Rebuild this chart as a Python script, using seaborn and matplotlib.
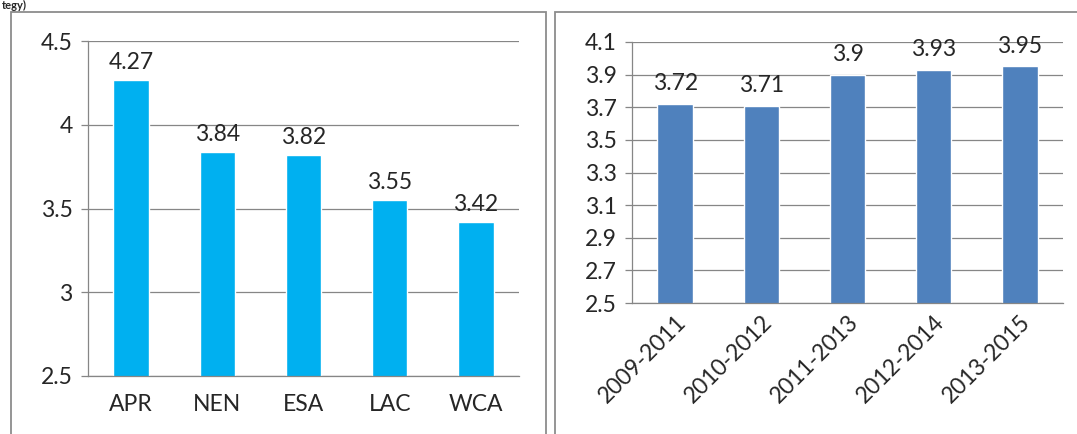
import matplotlib
matplotlib.use("Agg")
import matplotlib.pyplot as plt
import pandas as pd
import seaborn as sns
from matplotlib.patches import Rectangle

regions = ["APR", "NEN", "ESA", "LAC", "WCA"]
region_vals = [4.27, 3.84, 3.82, 3.55, 3.42]

periods = ["2009-2011", "2010-2012", "2011-2013", "2012-2014", "2013-2015"]
period_vals = [3.72, 3.71, 3.9, 3.93, 3.95]

sns.set_style("white")
plt.rcParams["font.family"] = ["Lato", "DejaVu Sans"]

W, H = 1077, 434
fig = plt.figure(figsize=(W / 100, H / 100), dpi=100)

grid_col = "#868686"
txt_size = 16.5


def px_axes(x0, x1, ytop, ybot):
    return fig.add_axes([x0 / W, (H - ybot) / H, (x1 - x0) / W, (ybot - ytop) / H])


def style_axes(ax, ymin, ymax, step):
    ax.set_ylim(ymin, ymax)
    ax.set_xlim(-0.5, 4.5)
    n = int(round((ymax - ymin) / step))
    ticks = [round(ymin + i * step, 2) for i in range(n + 1)]
    ax.set_yticks(ticks)
    ax.set_yticklabels([f"{t:g}" for t in ticks])
    ax.yaxis.grid(True, color=grid_col, linewidth=0.9)
    ax.set_axisbelow(True)
    for s in ["top", "right"]:
        ax.spines[s].set_visible(False)
    for s in ["left", "bottom"]:
        ax.spines[s].set_color(grid_col)
        ax.spines[s].set_linewidth(0.9)
    ax.set_xticks([i - 0.5 for i in range(6)], minor=True)
    ax.tick_params(axis="x", which="minor", length=5, color=grid_col, width=0.9)
    ax.tick_params(axis="x", which="major", length=0, labelsize=txt_size, pad=13)
    ax.tick_params(axis="y", length=5, color=grid_col, width=0.9,
                   labelsize=txt_size, pad=6, left=True)
    ax.set_xlabel("")
    ax.set_ylabel("")


# left panel
ax1 = px_axes(88, 519, 41, 376)
df1 = pd.DataFrame({"region": regions, "value": region_vals})
sns.barplot(data=df1, x="region", y="value", color="#00B0F0", saturation=1,
            width=0.41, ax=ax1)
style_axes(ax1, 2.5, 4.5, 0.5)
for i, v in enumerate(region_vals):
    ax1.annotate(f"{v:g}", (i, v), xytext=(0, 5), textcoords="offset points",
                 ha="center", va="bottom", fontsize=txt_size)

# right panel
ax2 = px_axes(632, 1063, 42, 303)
df2 = pd.DataFrame({"period": periods, "value": period_vals})
sns.barplot(data=df2, x="period", y="value", color="#4F81BD", saturation=1,
            width=0.41, ax=ax2)
style_axes(ax2, 2.5, 4.1, 0.2)
ax2.tick_params(axis="x", which="major", pad=6)
for lbl in ax2.get_xticklabels():
    lbl.set_rotation(45)
    lbl.set_ha("right")
    lbl.set_rotation_mode("anchor")
for i, v in enumerate(period_vals):
    ax2.annotate(f"{v:g}", (i, v), xytext=(0, 7), textcoords="offset points",
                 ha="center", va="bottom", fontsize=txt_size)

# panel borders
fig.patches.append(Rectangle((11 / W, -0.1), (546 - 11) / W, (H - 12) / H + 0.1,
                             transform=fig.transFigure, fill=False,
                             edgecolor="#8c8c8c", linewidth=1.3))
fig.patches.append(Rectangle((555 / W, -0.1), 0.6, (H - 12) / H + 0.1,
                             transform=fig.transFigure, fill=False,
                             edgecolor="#8c8c8c", linewidth=1.3))

# heading fragment from above the panels
fig.text(0.002, 0.999, "tegy)", fontsize=8, fontweight="bold",
         ha="left", va="top")

fig.savefig("out.png", dpi=100)
